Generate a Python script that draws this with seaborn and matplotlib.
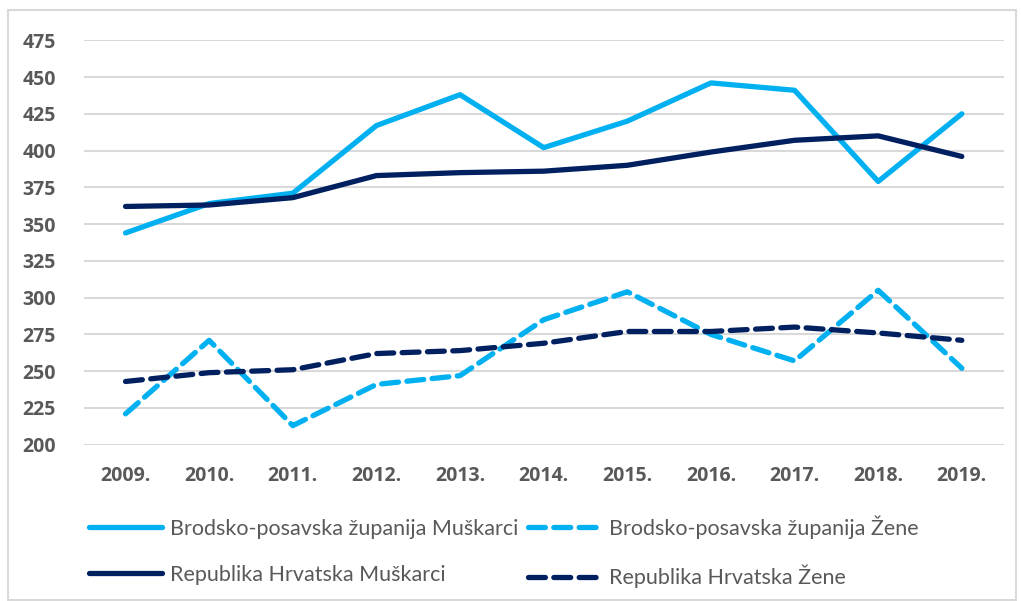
import pandas as pd
import matplotlib.pyplot as plt
import seaborn as sns

# -----------------------------
# Data
# -----------------------------
years = ["2009.", "2010.", "2011.", "2012.", "2013.", "2014.",
         "2015.", "2016.", "2017.", "2018.", "2019."]

bp_muskarci = [344, 364, 371, 417, 438, 402, 420, 446, 441, 379, 425]
bp_zene = [221, 271, 213, 241, 247, 285, 304, 275, 257, 305, 252]
rh_muskarci = [362, 363, 368, 383, 385, 386, 390, 399, 407, 410, 396]
rh_zene = [243, 249, 251, 262, 264, 269, 277, 277, 280, 276, 271]

y_ticks = [200, 225, 250, 275, 300, 325, 350, 375, 400, 425, 450, 475]

series_names = [
    "Brodsko-posavska županija Muškarci",
    "Republika Hrvatska Muškarci",
    "Brodsko-posavska županija Žene",
    "Republika Hrvatska Žene",
]
series_values = [bp_muskarci, rh_muskarci, bp_zene, rh_zene]

df = pd.concat(
    [pd.DataFrame({"Godina": years, "Vrijednost": v, "Serija": n})
     for n, v in zip(series_names, series_values)],
    ignore_index=True,
)

light_blue = "#00B0F0"
navy = "#002060"
palette = {
    series_names[0]: light_blue,
    series_names[1]: navy,
    series_names[2]: light_blue,
    series_names[3]: navy,
}
dashes = {
    series_names[0]: "",
    series_names[1]: "",
    series_names[2]: (3.2, 1.6),
    series_names[3]: (3.2, 1.6),
}

# -----------------------------
# Style
# -----------------------------
sns.set_style("white")
plt.rcParams["font.family"] = ["Lato", "DejaVu Sans"]

fig = plt.figure(figsize=(10.21, 6.01), dpi=100)
ax = fig.add_axes([0.082, 0.26, 0.901, 0.673])

sns.lineplot(
    data=df, x="Godina", y="Vrijednost", hue="Serija", style="Serija",
    palette=palette, dashes=dashes, linewidth=3.8, sort=False, ax=ax,
    legend=False,
)
for line in ax.get_lines():
    line.set_dash_capstyle("round")
    line.set_solid_capstyle("round")

tick_font = dict(family=["Open Sans", "DejaVu Sans"], weight="bold", size=14)

ax.set_xlim(-0.5, len(years) - 0.5)
ax.set_ylim(200, 475)
ax.set_xticks(range(len(years)), years, **tick_font)
ax.set_yticks(y_ticks, [str(v) for v in y_ticks], **tick_font)
ax.yaxis.grid(True, color="#D9D9D9", linewidth=1.5)
ax.xaxis.grid(False)
ax.set_axisbelow(True)
for s in ax.spines.values():
    s.set_visible(False)
ax.set_xlabel("")
ax.set_ylabel("")
ax.tick_params(axis="both", length=0, labelcolor="#595959")
ax.tick_params(axis="x", pad=15)
ax.tick_params(axis="y", pad=20)

# legend
handles = ax.get_lines()[:4]
leg = fig.legend(
    handles, series_names, ncol=2, loc="upper left",
    bbox_to_anchor=(0.079, 0.157), frameon=False, fontsize=15.5,
    handlelength=3.4, handletextpad=0.35, columnspacing=0.45,
    labelspacing=1.2, borderaxespad=0,
)
for t in leg.get_texts():
    t.set_color("#595959")

# outer frame
fig.patches.append(plt.Rectangle((8 / 1021, 1 - 600 / 601), 1008 / 1021, 590 / 601,
                                 transform=fig.transFigure, fill=False,
                                 edgecolor="#D9D9D9", linewidth=1.5))

plt.savefig("out.png", dpi=100)
